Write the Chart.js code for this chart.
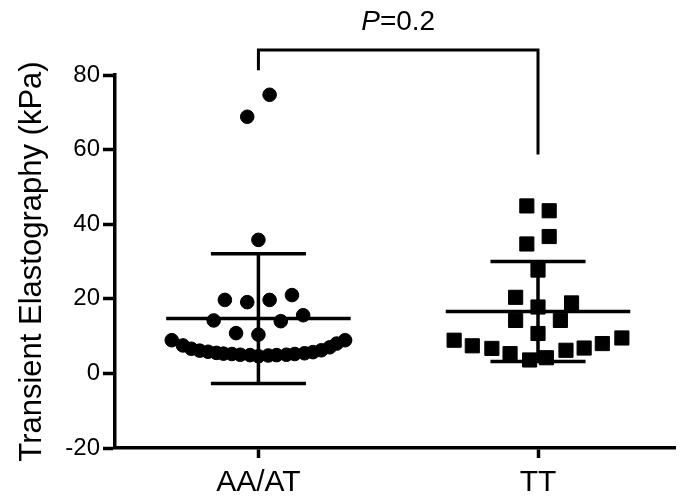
<!DOCTYPE html>
<html lang="en">
<head>
  <meta charset="UTF-8">
  <title>Transient Elastography</title>
  <style>
    html, body { margin: 0; padding: 0; background: #fff; }
    #wrap { width: 686px; height: 504px; }
  </style>
</head>
<body>
  <div id="wrap"><canvas id="chart" width="686" height="504"></canvas></div>

  <script src="https://cdn.jsdelivr.net/npm/chart.js"></script>
  <script>
    const groups = ["AA/AT", "TT"];
    const yTicks = [-20, 0, 20, 40, 60, 80];

    // values, spread = sideways offset (share of category gap)
    const aaValues = [74.7, 68.8, 35.8,
      21.0, 19.7, 19.1, 19.7, 15.6, 14.2, 14.0, 10.8, 10.4,
      8.9, 7.5, 6.6, 6.1, 5.8, 5.5, 5.3, 5.2, 5.0, 4.9, 4.6,
      4.8, 4.9, 5.0, 5.2, 5.4, 5.7, 6.2, 7.0, 8.0, 8.9];
    const aaSpread = [0.04, -0.04, 0,
      0.12, -0.12, -0.04, 0.04, 0.16, -0.16, 0.08, -0.08, 0,
      -0.31, -0.27, -0.24, -0.21, -0.18, -0.15, -0.125, -0.095, -0.065, -0.03, 0,
      0.035, 0.065, 0.1, 0.13, 0.165, 0.195, 0.225, 0.255, 0.28, 0.31];

    const ttValues = [44.9, 43.6, 34.7, 36.7, 27.7, 20.4, 18.9, 17.8, 14.2, 14.2, 10.7,
      8.9, 7.4, 6.7, 5.3, 3.6, 4.2, 6.2, 6.8, 8.0, 9.5];
    const ttSpread = [-0.04, 0.04, -0.04, 0.04, 0, -0.08, 0.12, 0, -0.08, 0.08, 0,
      -0.3, -0.235, -0.165, -0.1, -0.03, 0.03, 0.1, 0.165, 0.23, 0.3];

    // mean and SD as drawn
    const groupMean = [14.7, 16.6];
    const groupSD = [17.4, 13.4];

    const pText = "0.2";
    const bracketY = [81.3, 86.7, 86.7, 58.7];

    const FONT = '"Liberation Sans", Arial, sans-serif';
    const meanHalf = 0.33;
    const capHalf = 0.17;

    function toPoints(values, spread, pos) {
        return values.map((v, i) => ({ x: pos + spread[i], y: v }));
    }

    // mean line, SD whisker and caps for each group, broken by null points
    function errorBarPoints() {
        const pts = [];
        groupMean.forEach((m, i) => {
            const c = i + 1;
            const hi = m + groupSD[i];
            const lo = m - groupSD[i];
            pts.push({ x: c - meanHalf, y: m }, { x: c + meanHalf, y: m }, { x: c, y: null });
            pts.push({ x: c, y: lo }, { x: c, y: hi }, { x: c, y: null });
            pts.push({ x: c - capHalf, y: hi }, { x: c + capHalf, y: hi }, { x: c, y: null });
            pts.push({ x: c - capHalf, y: lo }, { x: c + capHalf, y: lo }, { x: c, y: null });
        });
        return pts;
    }

    const bracketPoints = [
        { x: 1, y: bracketY[0] },
        { x: 1, y: bracketY[1] },
        { x: 2, y: bracketY[2] },
        { x: 2, y: bracketY[3] }
    ];

    const pLabel = {
        id: 'pLabel',
        afterDatasetsDraw(chart) {
            const { ctx, scales } = chart;
            const cx = (scales.x.getPixelForValue(1) + scales.x.getPixelForValue(2)) / 2;
            const by = scales.y.getPixelForValue(bracketY[1]) - 20;
            const rest = '=' + pText;
            ctx.save();
            ctx.fillStyle = '#000';
            ctx.textBaseline = 'alphabetic';
            ctx.font = 'italic 28px ' + FONT;
            const pw = ctx.measureText('P').width;
            ctx.font = '28px ' + FONT;
            const rw = ctx.measureText(rest).width;
            const start = cx - (pw + rw) / 2;
            ctx.font = 'italic 28px ' + FONT;
            ctx.fillText('P', start, by);
            ctx.font = '28px ' + FONT;
            ctx.fillText(rest, start + pw, by);
            ctx.restore();
        }
    };

    const ctx = document.getElementById('chart').getContext('2d');
    new Chart(ctx, {
        type: 'scatter',
        data: {
            datasets: [
                {
                    label: groups[0],
                    data: toPoints(aaValues, aaSpread, 1),
                    pointStyle: 'circle',
                    pointRadius: 6.8,
                    pointBorderWidth: 1,
                    backgroundColor: '#000',
                    borderColor: '#000'
                },
                {
                    label: groups[1],
                    data: toPoints(ttValues, ttSpread, 2),
                    pointStyle: 'rect',
                    pointRadius: 10,
                    pointBorderWidth: 1,
                    backgroundColor: '#000',
                    borderColor: '#000'
                },
                {
                    label: 'mean ± SD',
                    data: errorBarPoints(),
                    showLine: true,
                    spanGaps: false,
                    pointRadius: 0,
                    borderWidth: 3.5,
                    borderColor: '#000',
                    borderCapStyle: 'butt'
                },
                {
                    label: 'bracket',
                    data: bracketPoints,
                    showLine: true,
                    pointRadius: 0,
                    borderWidth: 3,
                    borderColor: '#000',
                    borderJoinStyle: 'miter',
                    clip: false
                }
            ]
        },
        options: {
            responsive: false,
            devicePixelRatio: 1,
            animation: false,
            layout: { padding: { top: 75, left: 0, right: 0, bottom: 0 } },
            plugins: {
                legend: { display: false },
                tooltip: { enabled: false }
            },
            scales: {
                x: {
                    type: 'linear',
                    min: 0.487,
                    max: 2.49,
                    afterBuildTicks: (scale) => {
                        scale.ticks = groups.map((_, i) => ({ value: i + 1 }));
                    },
                    afterFit: (scale) => { scale.height = 56; },
                    ticks: {
                        autoSkip: false,
                        maxRotation: 0,
                        padding: 7,
                        color: '#000',
                        font: { family: FONT, size: 30 },
                        callback: (v) => groups[v - 1]
                    },
                    grid: {
                        drawOnChartArea: false,
                        tickLength: 10,
                        tickWidth: 3.5,
                        tickColor: '#000'
                    },
                    border: { color: '#000', width: 3.5 }
                },
                y: {
                    min: -20,
                    max: 80,
                    afterBuildTicks: (scale) => {
                        scale.ticks = yTicks.map(v => ({ value: v }));
                    },
                    afterFit: (scale) => { scale.width = 115; },
                    ticks: {
                        padding: 3,
                        color: '#000',
                        font: { family: FONT, size: 24 }
                    },
                    grid: {
                        drawOnChartArea: false,
                        tickLength: 12,
                        tickWidth: 3.5,
                        tickColor: '#000'
                    },
                    border: { color: '#000', width: 3.5 },
                    title: {
                        display: true,
                        text: 'Transient Elastography (kPa)',
                        color: '#000',
                        font: { family: FONT, size: 31 },
                        padding: { top: 14, bottom: 0 }
                    }
                }
            }
        },
        plugins: [pLabel]
    });
  </script>
</body>
</html>
